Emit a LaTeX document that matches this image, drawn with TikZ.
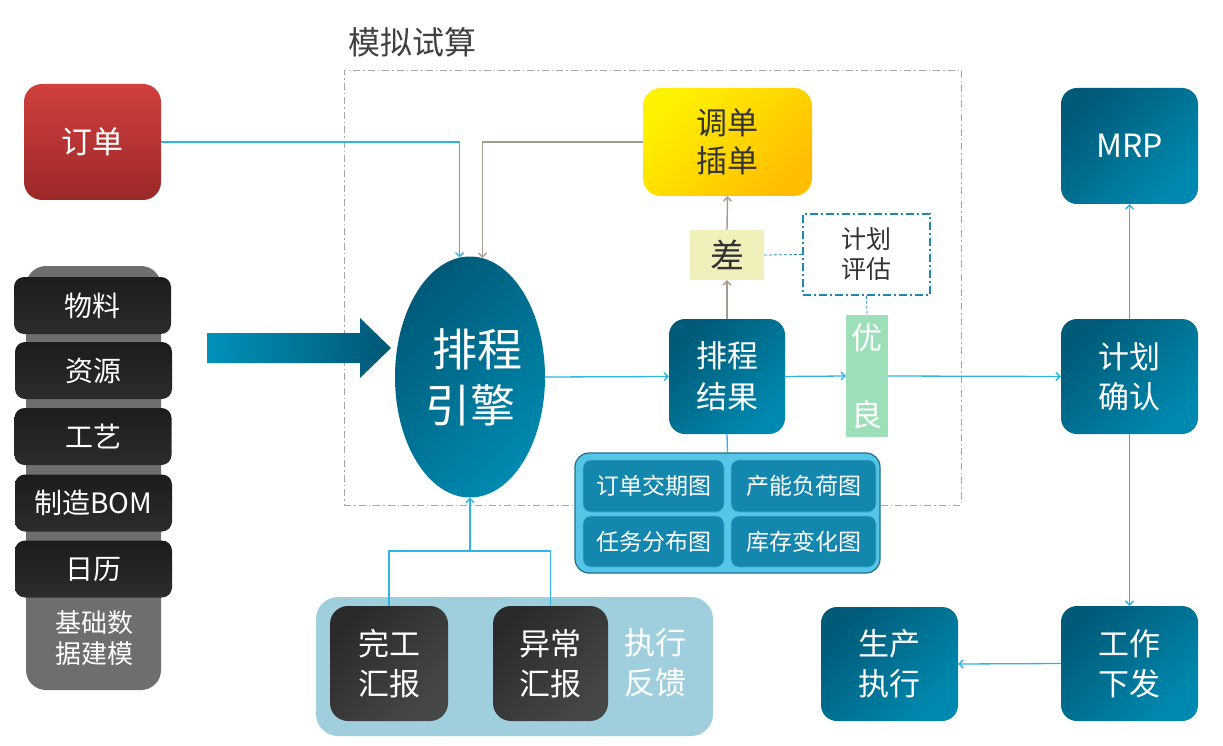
\documentclass[tikz,border=0pt]{standalone}
\usepackage{fontspec}
\setmainfont{Noto Sans CJK SC}
\usetikzlibrary{arrows.meta,shapes.geometric}
\definecolor{tealD}{HTML}{005A78}
\definecolor{tealL}{HTML}{0089B0}
\definecolor{redT}{HTML}{D0403D}
\definecolor{redB}{HTML}{9B2828}
\definecolor{yelT}{HTML}{FFF200}
\definecolor{yelB}{HTML}{FFBE00}
\definecolor{stackT}{HTML}{1C1C1C}
\definecolor{stackB}{HTML}{2C2C2C}
\definecolor{repT}{HTML}{2A2A2A}
\definecolor{repB}{HTML}{474747}
\definecolor{baseGray}{HTML}{6E6E6E}
\definecolor{lineBlue}{HTML}{2DB5E5}
\definecolor{lineBrown}{HTML}{A69B8D}
\definecolor{dashGray}{HTML}{A6A6A6}
\definecolor{pgBlue}{HTML}{1B8AB0}
\definecolor{chaFill}{HTML}{F2F0BA}
\definecolor{ylGreen}{HTML}{9DDFB9}
\definecolor{chartOut}{HTML}{56C5E8}
\definecolor{chartBorder}{HTML}{1F6F8C}
\definecolor{chartIn}{HTML}{1487AF}
\definecolor{panelBlue}{HTML}{9FCFDD}
\definecolor{textDark}{HTML}{333333}
\definecolor{titleGray}{HTML}{404040}
\definecolor{arrowL}{HTML}{0092BA}
\definecolor{arrowR}{HTML}{005674}
\tikzset{
  tealbox/.style={rounded corners=16pt, top color=tealD, bottom color=tealL, shading angle=45,
    text=white, inner sep=0pt, align=center, font=\fontsize{31}{40}\selectfont},
  stackbox/.style={rounded corners=10pt, top color=stackT, bottom color=stackB,
    minimum width=157pt, minimum height=57pt, inner sep=0pt, text=white,
    font=\fontsize{28}{32}\selectfont},
  repbox/.style={rounded corners=18pt, top color=repT, bottom color=repB, shading angle=45,
    minimum width=117pt, minimum height=115pt, inner sep=0pt, text=white, align=center,
    font=\fontsize{31}{40}\selectfont},
  chartbox/.style={rounded corners=8pt, fill=chartIn, draw=chartOut!70!chartIn, line width=0.6pt,
    minimum height=52pt, inner sep=0pt, text=white, font=\fontsize{23}{26}\selectfont},
  connB/.style={draw=lineBlue, line width=1.3pt, -{Straight Barb[length=4pt,width=8pt]}},
  connBn/.style={draw=lineBlue, line width=1.3pt},
  connG/.style={draw=lineBrown, line width=1.4pt, -{Straight Barb[length=4pt,width=8pt]}},
  dashLink/.style={draw=pgBlue, line width=0.8pt, dash pattern=on 3pt off 2pt},
}
\begin{document}
\begin{tikzpicture}[x=1pt,y=-1pt]
\useasboundingbox[fill=white] (0,0) rectangle (1223,746);

% simulation frame
\node[draw=dashGray, line width=0.9pt, dash pattern=on 7pt off 3pt on 1.5pt off 3pt,
  minimum width=617pt, minimum height=435pt, inner sep=0pt] (sim) at (652.5,287.5) {};
\node[text=titleGray, font=\fontsize{32}{36}\selectfont, inner sep=0pt] (title) at (412,42) {模拟试算};

% left side
\node[rounded corners=18pt, top color=redT, bottom color=redB, minimum width=137pt, minimum height=116pt,
  inner sep=0pt, text=white, font=\fontsize{31}{36}\selectfont] (dingdan) at (92.5,142) {订单};

\node[fill=baseGray, rounded corners=20pt, minimum width=135pt, minimum height=424pt, inner sep=0pt] (base) at (93.5,478) {};
\node[text=white, font=\fontsize{26}{31}\selectfont, align=center, inner sep=0pt] (baselbl) at (94,638) {基础数\\据建模};
\node[stackbox] (wuliao) at (92.5,305.5) {物料};
\node[stackbox] (ziyuan) at (93.5,370.5) {资源};
\node[stackbox] (gongyi) at (93,436.5) {工艺};
\node[stackbox] (bom) at (93.5,503) {制造BOM};
\node[stackbox] (rili) at (93.5,569) {日历};

% big arrow
\shade[left color=arrowL, right color=arrowR] (207,333) -- (360,333) -- (360,318) -- (391,348) -- (360,378) -- (360,363) -- (207,363) -- cycle;

% engine
\node[ellipse, minimum width=150pt, minimum height=241pt, inner sep=0pt, top color=tealD, bottom color=tealL,
  shading angle=45, text=white, align=center, font=\fontsize{45}{56}\selectfont] (engine) at (470,377)
  {\hspace*{14pt}排程\\引擎};

% simulation contents
\node[rounded corners=18pt, top color=yelT, bottom color=yelB, shading angle=45, minimum width=169pt,
  minimum height=108pt, inner sep=0pt, text=textDark, align=center, font=\fontsize{31}{38}\selectfont]
  (tiaodan) at (727.5,142) {调单\\插单};
\node[fill=chaFill, minimum width=74pt, minimum height=50pt, inner sep=0pt, text=textDark,
  font=\fontsize{34}{36}\selectfont] (cha) at (727,255) {差};
\node[draw=pgBlue, line width=1.5pt, dash pattern=on 8pt off 3pt on 2pt off 3pt, minimum width=127pt,
  minimum height=81pt, inner sep=0pt, text=textDark, align=center, font=\fontsize{25}{30}\selectfont]
  (pinggu) at (866.5,254.5) {计划\\评估};
\node[tealbox, minimum width=116pt, minimum height=115pt, font=\fontsize{31}{41}\selectfont] (jieguo) at (727,376.5) {排程\\结果};
\node[fill=ylGreen, minimum width=42pt, minimum height=122pt, inner sep=0pt, text=white, align=center,
  font=\fontsize{31}{77}\selectfont] (youliang) at (867,376) {优\\良};

% charts
\node[rounded corners=14pt, fill=chartOut, draw=chartBorder, line width=1.2pt, minimum width=305pt,
  minimum height=120pt, inner sep=0pt] (charts) at (727.5,513) {};
\node[chartbox, minimum width=141pt] (c1) at (653.5,486) {订单交期图};
\node[chartbox, minimum width=145pt] (c2) at (803.5,486) {产能负荷图};
\node[chartbox, minimum width=141pt, minimum height=51pt] (c3) at (653.5,541.5) {任务分布图};
\node[chartbox, minimum width=145pt, minimum height=51pt] (c4) at (803.5,541.5) {库存变化图};

% right side
\node[tealbox, minimum width=137pt, minimum height=116pt, font=\fontsize{32}{40}\selectfont] (mrp) at (1129.5,146) {MRP};
\node[tealbox, minimum width=137pt, minimum height=115pt] (queren) at (1129.5,376.5) {计划\\确认};
\node[tealbox, minimum width=137pt, minimum height=115pt] (xiafa) at (1129.5,663.5) {工作\\下发};
\node[tealbox, minimum width=137pt, minimum height=114pt] (zhixing) at (889.5,664) {生产\\执行};

% feedback panel
\node[fill=panelBlue, rounded corners=22pt, minimum width=397pt, minimum height=139pt, inner sep=0pt] (panel) at (514.5,666.5) {};
\node[repbox, minimum width=118pt] (wangong) at (389,663.5) {完工\\汇报};
\node[repbox, minimum width=115pt] (yichang) at (550.5,663.5) {异常\\汇报};
\node[text=white, align=center, inner sep=0pt, font=\fontsize{31}{40}\selectfont] (fankui) at (655,663) {执行\\反馈};
\coordinate (fb) at (470,551);

% connectors
\draw[connB] (dingdan.east) -| (engine.95.8);
\draw[connG] (tiaodan.west) -| (engine.84.7);
\draw[connB] (engine.east) -- (jieguo.west);
\draw[connB] (jieguo.east) -- (youliang.west);
\draw[connB] (youliang.east) -- (queren.west);
\draw[connG] (jieguo.north) -- (cha.south);
\draw[connG] (cha.north) -- (tiaodan.south);
\draw[dashLink] (cha.east) -- (pinggu.west);
\draw[dashLink] (pinggu.south) -- (youliang.north);
\draw[connBn] (jieguo.south) -- (charts.north);
\draw[connBn] (wangong.north) |- (fb) -| (yichang.north);
\draw[connB] (fb) -- (engine.south);
\draw[connB] (queren.north) -- (mrp.south);
\draw[connB] (queren.south) -- (xiafa.north);
\draw[connB] (xiafa.west) -- (zhixing.east);
\end{tikzpicture}
\end{document}
